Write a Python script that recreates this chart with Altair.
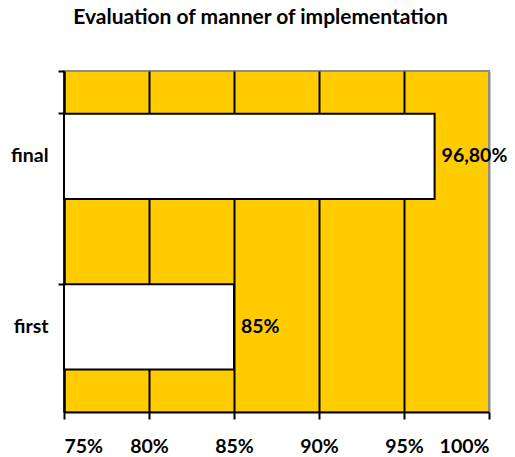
import altair as alt
import pandas as pd

# Evaluation scores for each round
rounds = ["final", "first"]
scores = [0.968, 0.85]
score_labels = ["96,80%", "85%"]
x_ticks = [0.75, 0.80, 0.85, 0.90, 0.95, 1.00]

df = pd.DataFrame({"round": rounds, "score": scores, "label": score_labels})

FONT = "Lato"
SIZE = 19.5

y_enc = alt.Y(
    "round:N",
    sort=rounds,
    title=None,
    scale=alt.Scale(paddingInner=0.5, paddingOuter=0.25),
    axis=alt.Axis(
        bandPosition=0,
        tickExtra=True,
        tickSize=6,
        tickWidth=2,
        tickColor="black",
        domainColor="black",
        domainWidth=2,
        labelPadding=10,
        labelFont=FONT,
        labelFontSize=SIZE,
        labelFontWeight="bold",
        labelColor="black",
        grid=False,
    ),
)

x_scale = alt.Scale(domain=[0.75, 1.0], zero=False, nice=False)

bars = alt.Chart(df).mark_bar(
    fill="white", stroke="black", strokeWidth=2
).encode(
    x=alt.X(
        "score:Q",
        scale=x_scale,
        title=None,
        axis=alt.Axis(
            values=x_ticks,
            format=".0%",
            tickSize=7,
            tickWidth=2,
            tickColor="black",
            domainColor="black",
            domainWidth=2,
            labelPadding=18,
            labelFont=FONT,
            labelFontSize=SIZE,
            labelFontWeight="bold",
            labelColor="black",
            grid=True,
            gridWidth=2,
            gridOpacity=1,
            gridColor={
                "condition": {"test": "datum.value >= 1", "value": "#8c8c8c"},
                "value": "black",
            },
        ),
    ),
    x2=alt.datum(x_ticks[0]),
    y=y_enc,
)

labels = alt.Chart(df).mark_text(
    align="left",
    baseline="middle",
    dx=7,
    font=FONT,
    fontSize=SIZE,
    fontWeight="bold",
    color="black",
).encode(
    x=alt.X("score:Q", scale=x_scale),
    y=alt.Y("round:N", sort=rounds),
    text="label:N",
)

chart = (
    alt.layer(bars, labels)
    .properties(
        width=425,
        height=341,
        autosize=alt.AutoSizeParams(type="none"),
        padding={"left": 64, "top": 71, "right": 26, "bottom": 45},
        title=alt.TitleParams(
            "Evaluation of manner of implementation",
            font=FONT,
            fontSize=21,
            fontWeight="bold",
            color="black",
            anchor="middle",
            dx=-16,
            offset=33,
        ),
    )
    .configure_view(fill="#FFCC00", stroke="#8c8c8c", strokeWidth=2)
)

chart.save("out.html", embed_options={"renderer": "svg", "actions": False})
